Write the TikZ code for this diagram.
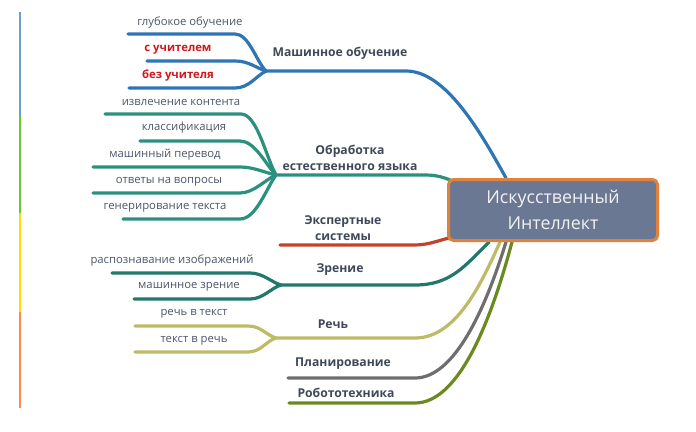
\documentclass[tikz,border=0pt]{standalone}
\usepackage{fontspec}
\setmainfont{Open Sans}
\usetikzlibrary{backgrounds,calc}

\definecolor{txt}{HTML}{4A5568}
\definecolor{redtxt}{HTML}{D0161B}
\definecolor{mlblue}{HTML}{2E75B6}
\definecolor{nlpteal}{HTML}{2B917E}
\definecolor{exred}{HTML}{C0442A}
\definecolor{visteal}{HTML}{22786A}
\definecolor{spkhaki}{HTML}{BEBA66}
\definecolor{plgray}{HTML}{6E6E6E}
\definecolor{roolive}{HTML}{6A8A1E}
\definecolor{boxfill}{HTML}{6B7893}
\definecolor{boxline}{HTML}{E2813B}

\tikzset{
  branch/.style={line width=3.2pt, line cap=round, draw=#1},
  leaf/.style={text=txt, inner sep=0pt, font=\fontsize{11.3}{12}\selectfont},
  redleaf/.style={leaf, text=redtxt, font=\bfseries\fontsize{11.3}{12}\selectfont},
  topic/.style={text=txt!85!black, inner sep=0pt, align=center, font=\bfseries\fontsize{12.2}{16}\selectfont},
  bar/.style={line width=2pt, draw=#1}
}

\begin{document}
\begin{tikzpicture}[x=1pt,y=-1pt]
  \useasboundingbox (0,0) rectangle (696,431);

  % side bar
  \draw[bar=mlblue!70] (19.5,12) -- (19.5,116);
  \draw[bar=green!45!olive!80] (19.5,116) -- (19.5,213);
  \draw[bar=yellow!80!orange] (19.5,213) -- (19.5,312);
  \draw[bar=orange!70!red!70] (19.5,312) -- (19.5,408);

  % centre
  \node[draw=boxline, line width=3pt, fill=boxfill, rounded corners=5pt,
        minimum width=209pt, minimum height=61pt, align=center,
        text=white!95!black, font=\fontsize{17.8}{26}\selectfont] (ai) at (553,210)
        {Искусственный\\Интеллект};

  % junctions
  \coordinate (jml) at (266,71);
  \coordinate (jnlp) at (276,175);
  \coordinate (jvis) at (281,285);
  \coordinate (jsp) at (276,338);

  % free ends
  \coordinate (deep) at (128,34);
  \coordinate (sup) at (147,61);
  \coordinate (unsup) at (129,88);
  \coordinate (ext) at (105,114);
  \coordinate (cls) at (140,141);
  \coordinate (mt) at (93,167);
  \coordinate (qa) at (93,193);
  \coordinate (gen) at (123,219);
  \coordinate (imgr) at (112,273);
  \coordinate (mvis) at (134,299);
  \coordinate (stt) at (135,326);
  \coordinate (tts) at (135,352);
  \coordinate (exp) at (280,245);
  \coordinate (plan) at (288,378);
  \coordinate (rob) at (289,403);

  \begin{scope}[on background layer]
    % main branches
    \draw[branch=mlblue] (jml) -- ++(140,0) .. controls +(40,0) and +(-25,-45) .. ($(ai.north west)+(59,0)$);
    \draw[branch=nlpteal] (jnlp) -- ++(150,0) .. controls +(15,0) and +(-12,-4) .. ($(ai.north west)+(14,6)$);
    \draw[branch=exred] (exp) -- ++(135,0) .. controls +(15,0) and +(-15,3) .. ($(ai.south west)+(10,-6)$);
    \draw[branch=visteal] (jvis) -- ++(134,0) .. controls +(35,0) and +(-25,25) .. ($(ai.south west)+(42,0)$);
    \draw[branch=spkhaki] (jsp) -- ++(139,0) .. controls +(40,0) and +(-20,45) .. ($(ai.south west)+(53,0)$);
    \draw[branch=plgray] (plan) -- ++(127,0) .. controls +(40,0) and +(-20,65) .. ($(ai.south west)+(59,0)$);
    \draw[branch=roolive] (rob) -- ++(126,0) .. controls +(45,0) and +(-20,75) .. ($(ai.south west)+(65,0)$);
    % sub branches
    \draw[branch=mlblue] (deep) -- ++(107,0) .. controls +(14,0) and +(-10,-10) .. (jml);
    \draw[branch=mlblue] (sup) -- ++(88,0) .. controls +(14,0) and +(-10,-3) .. (jml);
    \draw[branch=mlblue] (unsup) -- ++(106,0) .. controls +(14,0) and +(-10,5) .. (jml);
    \draw[branch=nlpteal] (ext) -- ++(136,0) .. controls +(16,0) and +(-10,-18) .. (jnlp);
    \draw[branch=nlpteal] (cls) -- ++(100,0) .. controls +(15,0) and +(-10,-10) .. (jnlp);
    \draw[branch=nlpteal] (mt) -- ++(147,0) .. controls +(14,0) and +(-10,-2) .. (jnlp);
    \draw[branch=nlpteal] (qa) -- ++(147,0) .. controls +(14,0) and +(-10,4) .. (jnlp);
    \draw[branch=nlpteal] (gen) -- ++(117,0) .. controls +(16,0) and +(-10,14) .. (jnlp);
    \draw[branch=visteal] (imgr) -- ++(138,0) .. controls +(13,0) and +(-10,-3) .. (jvis);
    \draw[branch=visteal] (mvis) -- ++(116,0) .. controls +(13,0) and +(-10,3) .. (jvis);
    \draw[branch=spkhaki] (stt) -- ++(113,0) .. controls +(13,0) and +(-10,-3) .. (jsp);
    \draw[branch=spkhaki] (tts) -- ++(113,0) .. controls +(13,0) and +(-10,3) .. (jsp);
  \end{scope}

  % topic labels
  \node[topic] (mltxt) at (340,53) {Машинное обучение};
  \node[topic] (nlptxt) at (350,158) {Обработка\\естественного языка};
  \node[topic] (exptxt) at (343,228) {Экспертные\\системы};
  \node[topic] (vistxt) at (340,270) {Зрение};
  \node[topic] (sptxt) at (333,324) {Речь};
  \node[topic] (pltxt) at (343,364) {Планирование};
  \node[topic] (robtxt) at (346,393) {Робототехника};

  % leaf labels
  \node[leaf] (deeptxt) at (190,23) {глубокое обучение};
  \node[redleaf] (suptxt) at (178,50) {с учителем};
  \node[redleaf] (unsuptxt) at (178,76) {без учителя};
  \node[leaf] (exttxt) at (181,102) {извлечение контента};
  \node[leaf] (clstxt) at (184,128) {классификация};
  \node[leaf] (mttxt) at (165,155) {машинный перевод};
  \node[leaf] (qatxt) at (169,182) {ответы на вопросы};
  \node[leaf] (gentxt) at (165,208) {генерирование текста};
  \node[leaf] (imgrtxt) at (172,261) {распознавание изображений};
  \node[leaf] (mvistxt) at (189,287) {машинное зрение};
  \node[leaf] (stttxt) at (194,314) {речь в текст};
  \node[leaf] (ttstxt) at (194,341) {текст в речь};
\end{tikzpicture}
\end{document}
